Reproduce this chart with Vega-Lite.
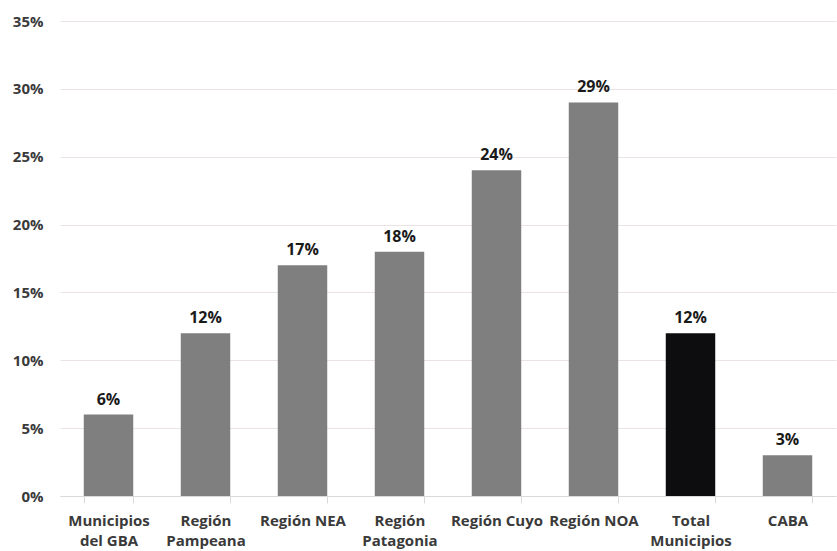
{
  "$schema": "https://vega.github.io/schema/vega-lite/v6.json",
  "width": 776,
  "height": 475,
  "autosize": {"type": "none"},
  "padding": {"left": 60, "top": 21, "right": 1, "bottom": 55},
  "background": "white",
  "data": {
    "values": [
      {"region": "Municipios del GBA", "share": 0.06, "group": "region"},
      {"region": "Región Pampeana", "share": 0.12, "group": "region"},
      {"region": "Región NEA", "share": 0.17, "group": "region"},
      {"region": "Región Patagonia", "share": 0.18, "group": "region"},
      {"region": "Región Cuyo", "share": 0.24, "group": "region"},
      {"region": "Región NOA", "share": 0.29, "group": "region"},
      {"region": "Total Municipios", "share": 0.12, "group": "total"},
      {"region": "CABA", "share": 0.03, "group": "region"}
    ]
  },
  "config": {
    "view": {"stroke": null},
    "font": "Open Sans"
  },
  "encoding": {
    "x": {
      "field": "region",
      "type": "nominal",
      "sort": null,
      "scale": {"paddingInner": 0.49, "paddingOuter": 0.245},
      "axis": {
        "title": null,
        "labelAngle": 0,
        "labelFont": "Open Sans",
        "labelFontWeight": "bold",
        "labelFontSize": 15,
        "labelColor": "#3a3a3a",
        "labelPadding": 10,
        "labelLineHeight": 20,
        "labelBaseline": "top",
        "labelExpr": "length(datum.label) > 11 ? [substring(datum.label, 0, indexof(datum.label, ' ')), substring(datum.label, indexof(datum.label, ' ') + 1)] : datum.label",
        "domainColor": "#d9d9d9",
        "tickColor": "#d9d9d9",
        "tickSize": 7,
        "tickBand": "extent",
        "grid": false
      }
    },
    "y": {
      "field": "share",
      "type": "quantitative",
      "scale": {"domain": [0, 0.35], "nice": false},
      "axis": {
        "title": null,
        "values": [0, 0.05, 0.1, 0.15, 0.2, 0.25, 0.3, 0.35],
        "format": ".0%",
        "labelFont": "Open Sans",
        "labelFontWeight": "bold",
        "labelFontSize": 15,
        "labelColor": "#3a3a3a",
        "labelPadding": 17,
        "domain": false,
        "ticks": false,
        "grid": true,
        "gridColor": "#ebe3e3",
        "gridWidth": 1
      }
    }
  },
  "layer": [
    {
      "mark": {"type": "bar"},
      "encoding": {
        "color": {
          "field": "group",
          "type": "nominal",
          "scale": {"domain": ["region", "total"], "range": ["#7f7f7f", "#0d0d0f"]},
          "legend": null
        }
      }
    },
    {
      "mark": {
        "type": "text",
        "dy": -10,
        "baseline": "alphabetic",
        "font": "Open Sans",
        "fontWeight": "bold",
        "fontSize": 16,
        "color": "#1a1a1a"
      },
      "encoding": {
        "text": {"field": "share", "type": "quantitative", "format": ".0%"}
      }
    }
  ]
}
